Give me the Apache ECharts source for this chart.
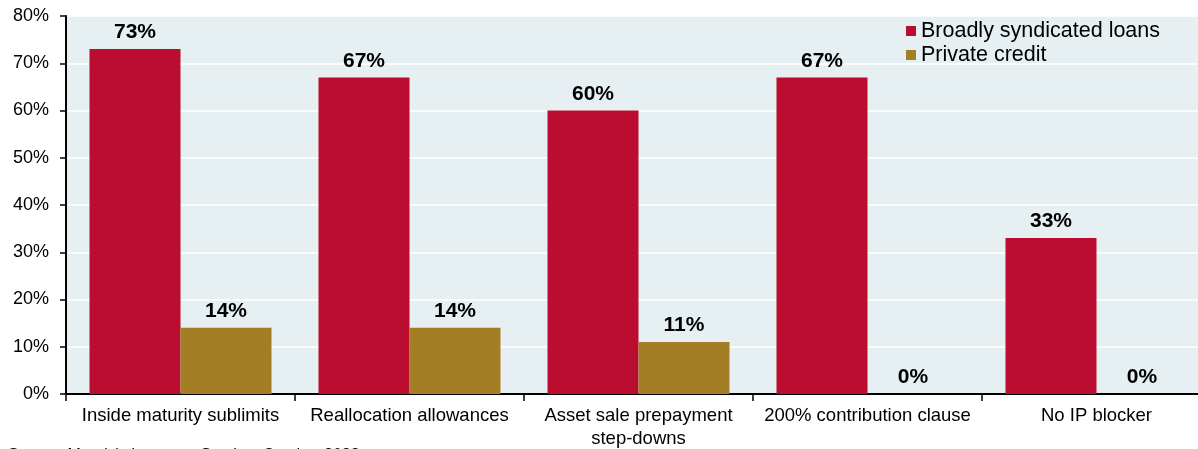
<!DOCTYPE html>
<html>
<head>
<meta charset="utf-8">
<script src="https://cdn.jsdelivr.net/npm/echarts@6/dist/echarts.min.js"></script>
<style>
html,body{margin:0;padding:0;background:#fff;}
#chart{width:1198px;height:449px;}
</style>
</head>
<body>
<div id="chart"></div>
<script>
const categories = ['Inside maturity sublimits', 'Reallocation allowances', 'Asset sale prepayment\nstep-downs', '200% contribution clause', 'No IP blocker'];
const bslValues = [73, 67, 60, 67, 33];
const privateCreditValues = [14, 14, 11, 0, 0];
const seriesNames = ['Broadly syndicated loans', 'Private credit'];
const sourceText = "Source: Moody's Investors Service, October 2023";

const FONT = "'Liberation Sans', Arial, sans-serif";
const chart = echarts.init(document.getElementById('chart'), null, {renderer: 'canvas'});

const labelCfg = {
  show: true, position: 'top', distance: 6,
  formatter: p => p.value + '%',
  color: '#000', fontWeight: 'bold', fontSize: 21, fontFamily: FONT
};

chart.setOption({
  animation: false,
  backgroundColor: '#fff',
  textStyle: {fontFamily: FONT},
  grid: {left: 66, top: 16, width: 1145, height: 378, show: true, backgroundColor: '#e6eff2', borderWidth: 0,
         containLabel: false, outerBoundsMode: 'none'},
  legend: {
    orient: 'vertical', left: 901, top: 15, itemWidth: 10, itemHeight: 10, itemGap: 2,
    icon: 'rect',
    textStyle: {fontSize: 21.5, color: '#000', fontFamily: FONT, padding: [0, 0, 0, 0]},
    data: seriesNames
  },
  graphic: [{
    type: 'text', left: 8, top: 448,
    style: {text: sourceText, fontSize: 16, fontFamily: FONT, fill: '#000'}
  }],
  xAxis: {
    type: 'category', data: categories, boundaryGap: true,
    axisLine: {lineStyle: {color: '#000', width: 2}},
    axisTick: {show: true, length: 7, lineStyle: {color: '#000', width: 1.5}},
    axisLabel: {color: '#000', fontSize: 18.5, fontFamily: FONT, margin: 10, lineHeight: 23, interval: 0}
  },
  yAxis: {
    type: 'value', min: 0, max: 80, interval: 10,
    axisLine: {show: true, lineStyle: {color: '#000', width: 2}},
    axisTick: {show: true, length: 6, lineStyle: {color: '#000', width: 1.5}},
    axisLabel: {formatter: '{value}%', color: '#000', fontSize: 18, fontFamily: FONT, margin: 17},
    splitLine: {show: true, lineStyle: {color: '#ffffff', width: 1.5}}
  },
  series: [
    {name: seriesNames[0], type: 'bar', data: bslValues, barWidth: 91, barGap: '0%',
     itemStyle: {color: '#bb0d2f'}, label: labelCfg},
    {name: seriesNames[1], type: 'bar', data: privateCreditValues, barWidth: 91,
     itemStyle: {color: '#a37e24'}, label: labelCfg}
  ]
});
</script>
</body>
</html>
